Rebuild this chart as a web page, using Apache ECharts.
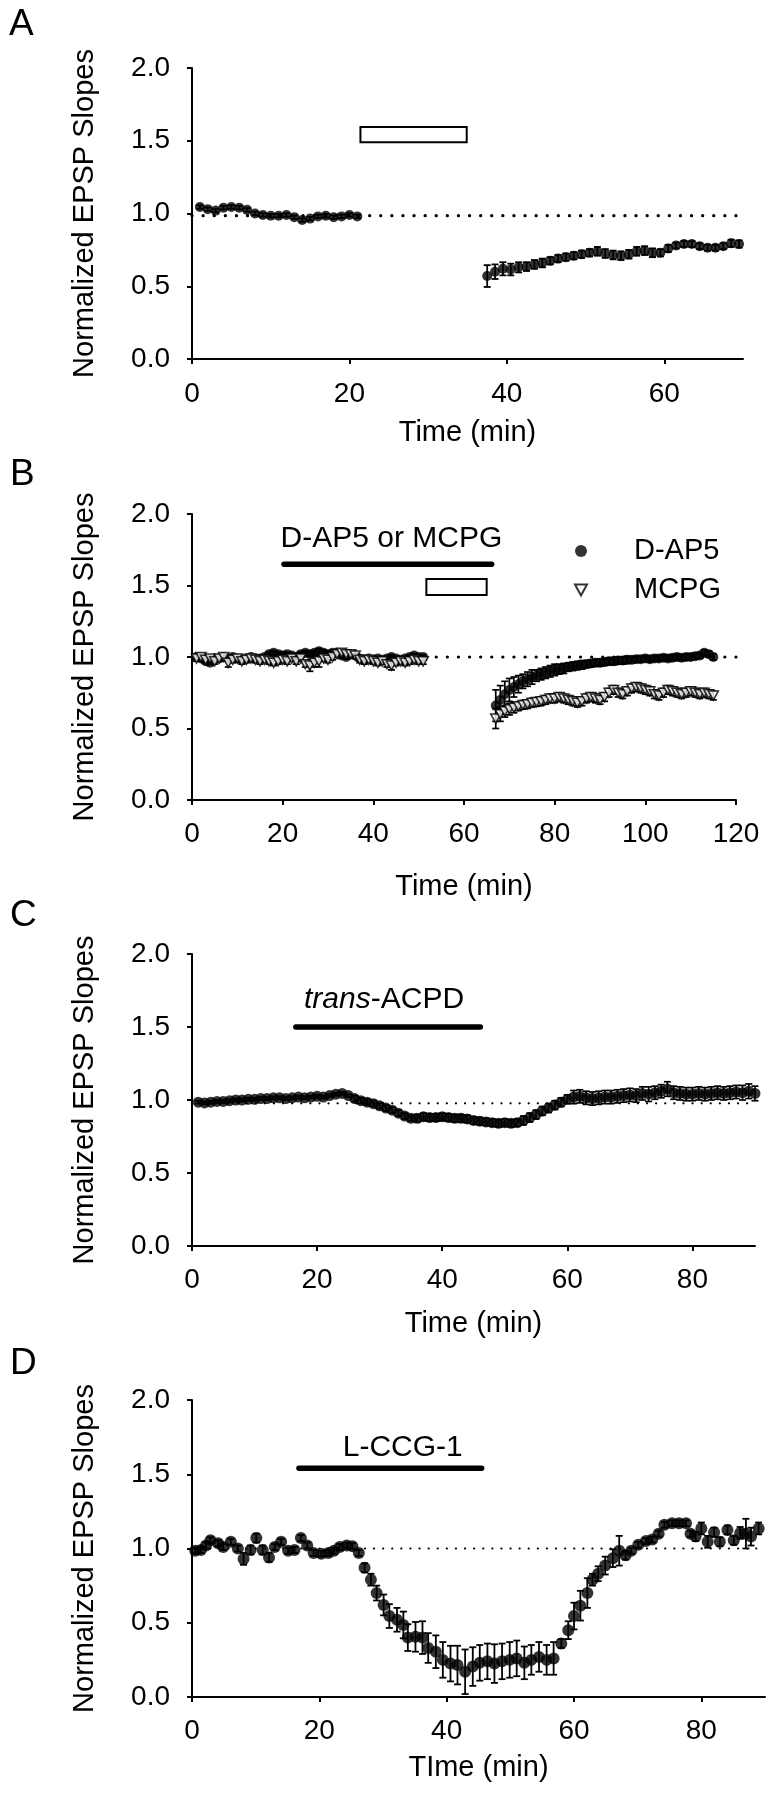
<!DOCTYPE html>
<html>
<head>
<meta charset="utf-8">
<script src="https://cdn.jsdelivr.net/npm/echarts@6/dist/echarts.min.js"></script>
<style>
html,body{margin:0;padding:0;background:#fff;}
#chart{width:769px;height:1800px;}
</style>
</head>
<body>
<div id="chart"></div>
<script>
// ---------------- DATA ----------------
// Panel A
const aTime = [1,2,3,4,5,6,7,8,9,10,11,12,13,14,15,16,17,18,19,20,21,
  37.5,38.5,39.5,40.5,41.5,42.5,43.5,44.5,45.5,46.5,47.5,48.5,49.5,50.5,51.5,52.5,53.5,54.5,55.5,56.5,57.5,58.5,59.5,60.5,61.5,62.5,63.5,64.5,65.5,66.5,67.5,68.5,69.5];
const aMean = [1.045,1.03,1.02,1.04,1.045,1.04,1.025,1.0,0.99,0.985,0.985,0.99,0.975,0.955,0.965,0.98,0.985,0.975,0.98,0.99,0.98,
  0.57,0.60,0.62,0.615,0.63,0.635,0.65,0.66,0.675,0.69,0.70,0.71,0.72,0.73,0.74,0.725,0.715,0.71,0.72,0.74,0.745,0.73,0.73,0.76,0.78,0.79,0.79,0.775,0.765,0.765,0.775,0.795,0.79];
const aSem = [0.012,0.012,0.012,0.012,0.012,0.012,0.012,0.012,0.012,0.012,0.012,0.012,0.012,0.012,0.012,0.012,0.012,0.012,0.012,0.012,0.012,
  0.075,0.05,0.045,0.04,0.035,0.03,0.03,0.03,0.025,0.025,0.025,0.025,0.025,0.025,0.03,0.03,0.03,0.03,0.03,0.03,0.03,0.03,0.025,0.025,0.02,0.02,0.02,0.02,0.02,0.02,0.02,0.025,0.025];
const aBaseline = 0.985;
const aDrugBox = [21.4, 1.49, 34.9, 1.595];   // [t0, y0, t1, y1]

// Panel B
const bTime = [1,2,3,4,5,6,7,8,9,10,11,12,13,14,15,16,17,18,19,20,21,22,23,24,25,26,27,28,29,30,31,32,33,34,35,36,37,38,39,40,41,42,43,44,45,46,47,48,49,50,51,
  67,68,69,70,71,72,73,74,75,76,77,78,79,80,81,82,83,84,85,86,87,88,89,90,91,92,93,94,95,96,97,98,99,100,101,102,103,104,105,106,107,108,109,110,111,112,113,114,115];
const bDap5Mean = [1.0,0.99,0.97,0.96,0.98,0.99,1.0,0.99,1.0,0.99,0.98,0.99,1.0,0.99,0.99,1.0,1.02,1.03,1.02,1.01,1.02,1.01,1.0,1.02,1.03,1.02,1.03,1.04,1.03,1.02,1.03,1.03,1.01,1.0,1.02,1.01,0.99,0.98,0.99,0.98,0.99,0.98,0.99,1.0,0.99,0.98,0.99,1.0,1.01,1.0,1.0,
  0.66,0.70,0.74,0.77,0.79,0.81,0.83,0.845,0.86,0.87,0.88,0.89,0.90,0.91,0.915,0.92,0.93,0.935,0.94,0.945,0.95,0.955,0.96,0.96,0.965,0.97,0.97,0.975,0.975,0.98,0.98,0.985,0.985,0.99,0.985,0.99,0.99,0.995,0.99,0.995,1.0,0.995,1.0,1.0,1.005,1.01,1.03,1.02,1.0];
const bDap5Sem = [0.015,0.015,0.015,0.015,0.015,0.015,0.015,0.015,0.015,0.015,0.015,0.015,0.015,0.015,0.015,0.015,0.015,0.015,0.015,0.015,0.015,0.015,0.015,0.015,0.015,0.015,0.015,0.02,0.02,0.015,0.015,0.015,0.015,0.015,0.015,0.015,0.015,0.015,0.015,0.015,0.015,0.015,0.015,0.015,0.015,0.015,0.015,0.015,0.015,0.015,0.015,
  0.11,0.10,0.09,0.08,0.07,0.06,0.05,0.05,0.05,0.04,0.04,0.04,0.04,0.04,0.035,0.035,0.03,0.03,0.03,0.03,0.025,0.025,0.025,0.025,0.025,0.025,0.025,0.025,0.025,0.025,0.02,0.02,0.02,0.02,0.02,0.02,0.02,0.02,0.02,0.02,0.02,0.02,0.02,0.02,0.02,0.02,0.02,0.02,0.02];
const bMcpgMean = [0.99,1.0,0.98,0.99,0.97,0.99,1.0,0.96,0.98,0.99,0.97,0.98,0.99,0.98,0.97,0.98,0.97,0.96,0.97,0.98,0.97,0.99,0.97,0.99,0.95,0.94,0.96,0.97,0.99,0.98,1.0,1.02,1.03,1.02,1.02,1.01,0.98,0.97,0.98,0.97,0.96,0.97,0.95,0.94,0.96,0.97,0.96,0.97,0.98,0.97,0.97,
  0.57,0.60,0.62,0.635,0.645,0.655,0.665,0.67,0.68,0.685,0.69,0.70,0.71,0.71,0.72,0.71,0.70,0.69,0.68,0.69,0.71,0.72,0.71,0.70,0.72,0.75,0.77,0.75,0.74,0.76,0.78,0.79,0.78,0.77,0.76,0.74,0.73,0.75,0.77,0.76,0.75,0.74,0.75,0.76,0.75,0.74,0.75,0.74,0.73];
const bMcpgSem = [0.02,0.02,0.02,0.02,0.02,0.02,0.02,0.03,0.02,0.02,0.02,0.02,0.02,0.02,0.02,0.02,0.02,0.02,0.02,0.02,0.02,0.02,0.02,0.02,0.02,0.04,0.03,0.04,0.02,0.02,0.02,0.02,0.02,0.02,0.02,0.02,0.02,0.02,0.02,0.02,0.02,0.02,0.02,0.03,0.02,0.02,0.02,0.02,0.02,0.02,0.02,
  0.07,0.05,0.04,0.04,0.035,0.03,0.03,0.03,0.03,0.03,0.03,0.03,0.03,0.03,0.03,0.03,0.03,0.03,0.03,0.03,0.03,0.03,0.03,0.03,0.03,0.03,0.03,0.03,0.03,0.03,0.03,0.03,0.03,0.03,0.03,0.03,0.03,0.03,0.03,0.03,0.03,0.03,0.03,0.03,0.03,0.03,0.03,0.03,0.03];
const bBaseline = 1.0;
const bDrugBar = [20.3, 66.1, 1.648];          // [t0, t1, y]
const bDrugLabel = [44, 1.825];
const bDrugBox = [51.7, 1.434, 65.0, 1.545];

// Panel C
const cTime = [1,2,3,4,5,6,7,8,9,10,11,12,13,14,15,16,17,18,19,20,21,22,23,24,25,26,27,28,29,30,31,32,33,34,35,36,37,38,39,40,41,42,43,44,45,46,47,48,49,50,51,52,53,54,55,56,57,58,59,60,61,62,63,64,65,66,67,68,69,70,71,72,73,74,75,76,77,78,79,80,81,82,83,84,85,86,87,88,89,90];
const cMean = [0.985,0.98,0.985,0.99,0.99,0.995,1.0,1.0,1.005,1.005,1.01,1.01,1.015,1.015,1.01,1.015,1.02,1.015,1.02,1.025,1.02,1.03,1.04,1.045,1.03,1.01,0.995,0.985,0.975,0.96,
  0.945,0.93,0.91,0.89,0.875,0.875,0.885,0.88,0.88,0.885,0.88,0.875,0.875,0.87,0.86,0.855,0.85,0.845,0.84,0.845,0.84,0.845,0.86,0.88,0.90,0.925,0.945,0.965,0.985,1.005,
  1.02,1.025,1.015,1.01,1.015,1.02,1.02,1.025,1.03,1.035,1.03,1.045,1.04,1.05,1.06,1.075,1.05,1.045,1.04,1.04,1.045,1.04,1.045,1.05,1.045,1.05,1.055,1.05,1.06,1.045];
const cSem = [0.01,0.01,0.01,0.01,0.01,0.01,0.01,0.01,0.01,0.01,0.01,0.01,0.01,0.01,0.01,0.01,0.01,0.01,0.01,0.01,0.01,0.01,0.01,0.01,0.01,0.02,0.02,0.02,0.02,0.02,
  0.02,0.02,0.02,0.02,0.02,0.025,0.025,0.025,0.025,0.025,0.025,0.025,0.025,0.025,0.025,0.025,0.025,0.025,0.025,0.025,0.025,0.025,0.03,0.03,0.03,0.03,0.03,0.03,0.03,0.03,
  0.045,0.045,0.045,0.045,0.045,0.045,0.045,0.045,0.045,0.045,0.045,0.045,0.05,0.045,0.045,0.05,0.045,0.045,0.045,0.045,0.045,0.045,0.045,0.045,0.045,0.045,0.045,0.05,0.05,0.05];
const cBaseline = 0.977;
const cDrugBar = [16.6, 46.1, 1.5];
const cDrugLabel = [30.7, 1.69];

// Panel D
const dTime = [0.5,1.4,2.2,2.9,4.1,4.9,6.1,7.2,8.1,9.2,10.1,11.1,12.1,13,14,15.1,16.1,17.1,18.1,19.1,20.3,21.4,22.3,23.2,24.3,25.2,26.2,27.1,28.1,29,
  30.1,31,32.2,33.2,33.9,35.1,36.2,37.1,38.3,39.4,40.6,41.7,42.9,44.1,45.2,46.4,47.5,48.7,49.9,51,52.2,53.3,54.5,55.7,56.8,58,59.1,60,61,62.1,
  62.9,63.8,64.9,66.1,67.1,68.1,69,70.1,71.3,72.3,73.3,74.2,75.4,76.5,77.6,78.3,79.1,80,81,82,82.9,84.1,85.1,86.1,87,87.8,89];
const dMean = [0.985,0.99,1.02,1.055,1.035,1.01,1.045,1.0,0.93,0.99,1.07,0.99,0.94,1.01,1.045,0.985,0.99,1.07,1.02,0.97,0.965,0.97,0.985,1.01,1.02,1.015,0.97,0.87,0.79,0.70,
  0.62,0.545,0.52,0.485,0.40,0.405,0.40,0.33,0.305,0.25,0.225,0.215,0.17,0.205,0.23,0.24,0.225,0.24,0.25,0.26,0.23,0.25,0.27,0.25,0.26,0.36,0.45,0.545,0.615,0.70,
  0.79,0.83,0.885,0.935,0.985,0.955,0.985,1.025,1.05,1.06,1.10,1.16,1.17,1.17,1.17,1.10,1.08,1.135,1.045,1.11,1.045,1.125,1.055,1.105,1.10,1.08,1.135];
const dSem = [0.02,0.02,0.02,0.02,0.02,0.02,0.02,0.02,0.04,0.03,0.03,0.03,0.03,0.02,0.02,0.02,0.02,0.02,0.02,0.02,0.02,0.02,0.02,0.02,0.02,0.02,0.02,0.03,0.04,0.05,
  0.07,0.08,0.08,0.09,0.09,0.10,0.11,0.10,0.11,0.12,0.12,0.13,0.15,0.13,0.12,0.12,0.13,0.12,0.12,0.12,0.11,0.10,0.10,0.10,0.11,0.03,0.06,0.09,0.10,0.10,
  0.04,0.05,0.06,0.06,0.10,0.03,0.02,0.02,0.02,0.02,0.02,0.02,0.02,0.02,0.02,0.02,0.03,0.04,0.04,0.03,0.03,0.03,0.03,0.04,0.10,0.06,0.04];
const dBaseline = 1.0;
const dDrugBar = [16.8, 45.5, 1.54];
const dDrugLabel = [33.1, 1.68];

// Tick labels
const yTicks = [0, 0.5, 1.0, 1.5, 2.0];
const aXTicks = [0, 20, 40, 60];
const bXTicks = [0, 20, 40, 60, 80, 100, 120];
const cXTicks = [0, 20, 40, 60, 80];
const dXTicks = [0, 20, 40, 60, 80];

// ---------------- CHART ----------------
const FONT = '"Liberation Sans", Arial, Helvetica, sans-serif';
const chart = echarts.init(document.getElementById('chart'), null, {renderer: 'canvas'});

function pts(t, m) { return t.map((x, i) => [x, m[i]]); }
function errs(t, m, s) { return t.map((x, i) => [x, m[i] - s[i], m[i] + s[i]]); }

function errRender(cap, lw) {
  return function (params, api) {
    const x = api.value(0);
    const p0 = api.coord([x, api.value(1)]);
    const p1 = api.coord([x, api.value(2)]);
    const st = {stroke: '#000', lineWidth: lw};
    return {type: 'group', children: [
      {type: 'line', shape: {x1: p0[0], y1: p0[1], x2: p1[0], y2: p1[1]}, style: st},
      {type: 'line', shape: {x1: p0[0] - cap, y1: p0[1], x2: p0[0] + cap, y2: p0[1]}, style: st},
      {type: 'line', shape: {x1: p1[0] - cap, y1: p1[1], x2: p1[0] + cap, y2: p1[1]}, style: st}
    ]};
  };
}

const grids = [
  {left: 192, top: 68, width: 551, height: 291},
  {left: 192, top: 514, width: 544, height: 286},
  {left: 192, top: 954, width: 563, height: 292},
  {left: 192, top: 1400, width: 573, height: 297}
];
const xMax = [70, 120, 90, 90];
const xTickSets = [aXTicks, bXTicks, cXTicks, dXTicks];
const xNames = ['Time (min)', 'Time (min)', 'Time (min)', 'TIme (min)'];
const xNameGaps = [59, 72, 63, 56];
const xLabelMargins = [21, 20, 20, 20];

const axisLineStyle = {color: '#000', width: 2};
const xAxes = grids.map((g, i) => ({
  type: 'value', gridIndex: i, min: 0, max: xMax[i], interval: 20,
  name: xNames[i], nameLocation: 'middle', nameGap: xNameGaps[i],
  nameTextStyle: {fontSize: 29, fontFamily: FONT, color: '#000'},
  axisLine: {show: true, onZero: false, lineStyle: axisLineStyle},
  axisTick: {show: true, inside: false, length: 5, lineStyle: {color: '#000', width: 2}, customValues: xTickSets[i]},
  axisLabel: {fontSize: 28, fontFamily: FONT, color: '#000', margin: xLabelMargins[i], customValues: xTickSets[i]},
  splitLine: {show: false}
}));
const yAxes = grids.map((g, i) => ({
  type: 'value', gridIndex: i, min: 0, max: 2, interval: 0.5,
  name: 'Normalized EPSP Slopes', nameLocation: 'middle', nameGap: 93,
  nameTextStyle: {fontSize: 29, fontFamily: FONT, color: '#000'},
  axisLine: {show: true, onZero: false, lineStyle: axisLineStyle},
  axisTick: {show: true, inside: false, length: 5, lineStyle: {color: '#000', width: 2}, customValues: yTicks},
  axisLabel: {fontSize: 28, fontFamily: FONT, color: '#000', margin: 22, customValues: yTicks,
    formatter: v => Number(v).toFixed(1)},
  splitLine: {show: false}
}));

function dotted(i, y, w, gap) {
  return {type: 'line', xAxisIndex: i, yAxisIndex: i, data: [[0, y], [xMax[i], y]],
    symbol: 'none', silent: true, z: 1,
    lineStyle: {color: '#000', width: w, type: [0.1, gap], cap: 'round'}};
}
function errSeries(i, data, cap, lw) {
  return {type: 'custom', xAxisIndex: i, yAxisIndex: i, data: data, silent: true, z: 2,
    encode: {x: 0, y: [1, 2]}, renderItem: errRender(cap, lw)};
}
function boxSeries(i, box) {
  return {type: 'custom', xAxisIndex: i, yAxisIndex: i, data: [box], silent: true, z: 4,
    renderItem: function (params, api) {
      const p0 = api.coord([api.value(0), api.value(3)]);
      const p1 = api.coord([api.value(2), api.value(1)]);
      return {type: 'rect', shape: {x: p0[0], y: p0[1], width: p1[0] - p0[0], height: p1[1] - p0[1]},
        style: {fill: '#fff', stroke: '#000', lineWidth: 2}};
    }};
}
function barSeries(i, bar) {
  return {type: 'custom', xAxisIndex: i, yAxisIndex: i, data: [bar], silent: true, z: 4,
    renderItem: function (params, api) {
      const p0 = api.coord([api.value(0), api.value(2)]);
      const p1 = api.coord([api.value(1), api.value(2)]);
      return {type: 'line', shape: {x1: p0[0], y1: p0[1], x2: p1[0], y2: p1[1]},
        style: {stroke: '#000', lineWidth: 5.5, lineCap: 'round'}};
    }};
}
function labelSeries(i, pos, text, rich) {
  return {type: 'custom', xAxisIndex: i, yAxisIndex: i, data: [pos], silent: true, z: 4,
    renderItem: function (params, api) {
      const p = api.coord([api.value(0), api.value(1)]);
      const style = {text: text, fontSize: 30, fontFamily: FONT, fill: '#000', align: 'center', verticalAlign: 'middle'};
      if (rich) style.rich = rich;
      return {type: 'text', x: p[0], y: p[1], style: style};
    }};
}

const series = [
  // A
  dotted(0, aBaseline, 3.2, 11),
  errSeries(0, errs(aTime, aMean, aSem), 3.5, 1.8),
  {type: 'scatter', xAxisIndex: 0, yAxisIndex: 0, data: pts(aTime, aMean), symbol: 'circle', symbolSize: 10,
    itemStyle: {color: '#000'}, z: 3, silent: true},
  boxSeries(0, aDrugBox),
  // B
  dotted(1, bBaseline, 3.2, 11),
  errSeries(1, errs(bTime, bDap5Mean, bDap5Sem), 3.5, 1.7),
  {name: 'D-AP5', type: 'scatter', xAxisIndex: 1, yAxisIndex: 1, data: pts(bTime, bDap5Mean), symbol: 'circle', symbolSize: 10,
    itemStyle: {color: '#000'}, z: 3, silent: true},
  errSeries(1, errs(bTime, bMcpgMean, bMcpgSem), 3.5, 1.7),
  {name: 'MCPG', type: 'scatter', xAxisIndex: 1, yAxisIndex: 1, data: pts(bTime, bMcpgMean), symbol: 'triangle', symbolRotate: 180,
    symbolSize: [10, 9], itemStyle: {color: '#fff', borderColor: '#000', borderWidth: 1.6}, z: 3, silent: true},
  barSeries(1, bDrugBar),
  labelSeries(1, bDrugLabel, 'D-AP5 or MCPG'),
  boxSeries(1, bDrugBox),
  // C
  dotted(2, cBaseline, 2.2, 9),
  errSeries(2, errs(cTime, cMean, cSem), 3.5, 1.7),
  {type: 'scatter', xAxisIndex: 2, yAxisIndex: 2, data: pts(cTime, cMean), symbol: 'circle', symbolSize: 11,
    itemStyle: {color: '#000'}, z: 3, silent: true},
  barSeries(2, cDrugBar),
  labelSeries(2, cDrugLabel, '{i|trans}-ACPD', {i: {fontSize: 30, fontFamily: FONT, fontStyle: 'italic', fill: '#000'}}),
  // D
  dotted(3, dBaseline, 2.2, 9),
  errSeries(3, errs(dTime, dMean, dSem), 3.5, 1.8),
  {type: 'scatter', xAxisIndex: 3, yAxisIndex: 3, data: pts(dTime, dMean), symbol: 'circle', symbolSize: 12,
    itemStyle: {color: '#000'}, z: 3, silent: true},
  barSeries(3, dDrugBar),
  labelSeries(3, dDrugLabel, 'L-CCG-1')
];

const letterStyle = {fontSize: 37, fontFamily: FONT, fill: '#000'};
chart.setOption({
  animation: false,
  backgroundColor: '#fff',
  grid: grids,
  xAxis: xAxes,
  yAxis: yAxes,
  legend: {
    orient: 'vertical', left: 569, top: 531, itemWidth: 12, itemHeight: 12, itemGap: 9,
    selectedMode: false,
    data: [{name: 'D-AP5', icon: 'circle'}, {name: 'MCPG', icon: 'path://M0,0L10,0L5,9Z'}],
    textStyle: {fontSize: 29, fontFamily: FONT, color: '#000', padding: [0, 0, 0, 42], lineHeight: 30}
  },
  graphic: [
    {type: 'text', left: 9, top: 6, style: Object.assign({text: 'A'}, letterStyle)},
    {type: 'text', left: 10, top: 456, style: Object.assign({text: 'B'}, letterStyle)},
    {type: 'text', left: 10, top: 897, style: Object.assign({text: 'C'}, letterStyle)},
    {type: 'text', left: 10, top: 1345, style: Object.assign({text: 'D'}, letterStyle)}
  ],
  series: series
});
</script>
</body>
</html>
